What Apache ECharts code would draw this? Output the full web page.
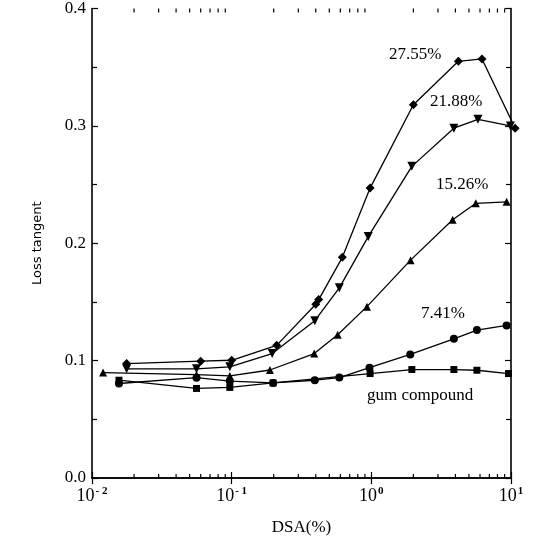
<!DOCTYPE html>
<html>
<head>
<meta charset="utf-8">
<script src="https://cdn.jsdelivr.net/npm/echarts@6/dist/echarts.min.js"></script>
<style>html,body{margin:0;padding:0;background:#fff;}#c{width:533px;height:541px;}</style>
</head>
<body>
<div id="c"></div>
<script>
// ---- data (x = DSA %, y = loss tangent) ----
const s2755 = [[0.0177,0.0975],[0.060,0.0995],[0.100,0.1003],[0.21,0.113],[0.40,0.148],[0.42,0.152],[0.62,0.188],[0.98,0.247],[2.0,0.318],[4.2,0.355],[6.2,0.357],[10.7,0.298]];
const s2188 = [[0.0177,0.093],[0.056,0.093],[0.097,0.0947],[0.195,0.106],[0.394,0.134],[0.59,0.162],[0.95,0.2057],[1.95,0.2655],[3.9,0.298],[5.8,0.3056],[9.9,0.300]];
const s1526 = [[0.012,0.0898],[0.056,0.088],[0.097,0.087],[0.188,0.092],[0.39,0.106],[0.574,0.122],[0.93,0.146],[1.91,0.1856],[3.82,0.220],[5.6,0.234],[9.3,0.2353]];
const s741  = [[0.0156,0.0805],[0.056,0.0855],[0.097,0.0825],[0.198,0.081],[0.394,0.0833],[0.59,0.0856],[0.97,0.094],[1.9,0.1053],[3.9,0.1186],[5.7,0.126],[9.3,0.130]];
const sGum  = [[0.0156,0.0833],[0.056,0.0763],[0.097,0.0772],[0.198,0.081],[0.98,0.089],[1.95,0.0924],[3.9,0.0924],[5.7,0.0918],[9.6,0.089]];
const seriesNames = ['27.55%','21.88%','15.26%','7.41%','gum compound'];
const yTicks = [0.0,0.1,0.2,0.3,0.4];
const xTickExponents = ['-2','-1','0','1'];
const xMinorTicks = [0.02,0.03,0.04,0.05,0.06,0.07,0.08,0.09,0.2,0.3,0.4,0.5,0.6,0.7,0.8,0.9,2,3,4,5,6,7,8,9];

const serif = 'Liberation Serif';
const chart = echarts.init(document.getElementById('c'), null, {renderer:'canvas'});

function lineSeries(name, data, symbol, rot, size) {
  return {
    name, type:'line', data, symbol, symbolSize:size, symbolRotate:rot||0, clip:false,
    lineStyle:{color:'#000', width:1.3}, itemStyle:{color:'#000'},
    showSymbol:true, animation:false, z:3
  };
}

const axisBase = {
  axisLine:{show:true, lineStyle:{color:'#000', width:1.6}},
  axisTick:{show:true, inside:true, length:6, lineStyle:{color:'#000', width:1.2}},
  splitLine:{show:false}
};

const option = {
  backgroundColor:'#fff',
  animation:false,
  grid:{left:92, right:22, top:8, bottom:61, containLabel:false},
  xAxis:[
    Object.assign({}, axisBase, {
      type:'log', logBase:10, min:0.01, max:10, position:'bottom',
      name:'DSA(%)', nameLocation:'middle', nameGap:41,
      nameTextStyle:{fontFamily:serif, fontSize:17, color:'#000'},
      axisLabel:{
        margin:8, color:'#000',
        formatter:function(v){ const e=Math.round(Math.log10(v)); return '{b|10}{s|' + (e<0?'- '+(-e):e) + '}'; },
        rich:{ b:{fontFamily:serif, fontSize:18, color:'#000'}, s:{fontFamily:serif, fontSize:11, color:'#000', fontWeight:'bold', verticalAlign:'top', padding:[0,0,10,1]} }
      }
    }),
    Object.assign({}, axisBase, {
      type:'log', logBase:10, min:0.01, max:10, position:'top', axisLabel:{show:false}
    })
  ],
  yAxis:[
    Object.assign({}, axisBase, {
      type:'value', min:0, max:0.4, interval:0.1, position:'left',
      name:'Loss tangent', nameLocation:'middle', nameGap:48, nameRotate:90,
      nameTextStyle:{fontFamily:'DejaVu Sans', fontSize:13, color:'#000'},
      minorTick:{show:true, splitNumber:2, length:5, lineStyle:{color:'#000', width:1.2}},
      axisLabel:{margin:6, color:'#000', fontFamily:serif, fontSize:17, formatter:v=>v.toFixed(1)}
    }),
    Object.assign({}, axisBase, {
      type:'value', min:0, max:0.4, interval:0.1, position:'right',
      minorTick:{show:true, splitNumber:2, length:5, lineStyle:{color:'#000', width:1.2}},
      axisLabel:{show:false}
    })
  ],
  series:[
    lineSeries(seriesNames[0], s2755, 'diamond', 0, 9),
    lineSeries(seriesNames[1], s2188, 'triangle', 180, 9),
    lineSeries(seriesNames[2], s1526, 'triangle', 0, 8),
    lineSeries(seriesNames[3], s741, 'circle', 0, 8),
    lineSeries(seriesNames[4], sGum, 'rect', 0, 7),
    {
      type:'custom', silent:true, z:4,
      data: xMinorTicks.map(v=>[v,0]),
      renderItem:function(params, api){
        const cs = params.coordSys;
        const p = api.coord([api.value(0), 0]);
        const x = p[0];
        return {type:'group', children:[
          {type:'line', shape:{x1:x, y1:cs.y+cs.height, x2:x, y2:cs.y+cs.height-4}, style:{stroke:'#000', lineWidth:1.2}},
          {type:'line', shape:{x1:x, y1:cs.y, x2:x, y2:cs.y+4}, style:{stroke:'#000', lineWidth:1.2}}
        ]};
      }
    }
  ],
  graphic:[
    {type:'text', left:389, top:46, style:{text:seriesNames[0], font:'17px "Liberation Serif"', fill:'#000'}},
    {type:'text', left:430, top:93, style:{text:seriesNames[1], font:'17px "Liberation Serif"', fill:'#000'}},
    {type:'text', left:436, top:176, style:{text:seriesNames[2], font:'17px "Liberation Serif"', fill:'#000'}},
    {type:'text', left:421, top:305, style:{text:seriesNames[3], font:'17px "Liberation Serif"', fill:'#000'}},
    {type:'text', left:367, top:387, style:{text:seriesNames[4], font:'17px "Liberation Serif"', fill:'#000'}}
  ]
};
chart.setOption(option);
</script>
</body>
</html>
